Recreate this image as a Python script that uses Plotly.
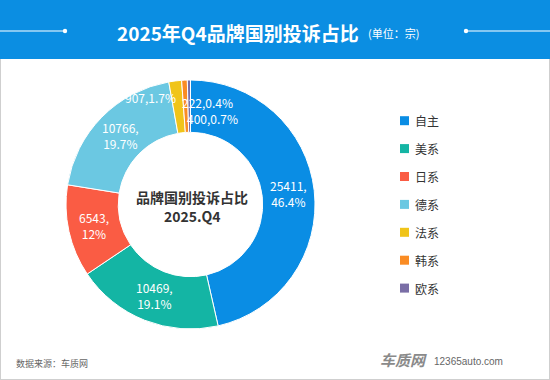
import numpy as np
import plotly.graph_objects as go

# ---------------- data ----------------
categories = ["自主", "美系", "日系", "德系", "法系", "韩系", "欧系"]
values = [25411, 10469, 6543, 10766, 907, 400, 222]
pct_labels = ["46.4%", "19.1%", "12%", "19.7%", "1.7%", "0.7%", "0.4%"]
colors = ["#0A8DE4", "#14B5A4", "#FA5C44", "#6BC8E2", "#F0C419", "#FA8C24", "#7A6EA6"]
title_text = "2025年Q4品牌国别投诉占比"
unit_text = "(单位：宗)"
center_text = ["品牌国别投诉占比", "2025.Q4"]
source_text = "数据来源：车质网"

# ---------------- geometry ----------------
W, H = 550, 380
cx, cy, R = 190.5, 204.5, 124.5
hole = 0.58
FONT = "Noto Sans CJK SC"

def px(x):
    return x / W

def py(y):
    return 1 - y / H

fig = go.Figure()

fig.add_trace(go.Pie(
    labels=categories,
    values=values,
    sort=False,
    direction="clockwise",
    rotation=0,
    hole=hole,
    marker=dict(colors=colors, line=dict(color="white", width=1)),
    textinfo="none",
    hoverinfo="label+value+percent",
    showlegend=False,
    domain=dict(x=[px(cx - R), px(cx + R)], y=[py(cy + R), py(cy - R)]),
))

shapes = []
annotations = []

# border and title band
shapes.append(dict(type="rect", xref="paper", yref="paper", x0=0, x1=1, y0=0, y1=1,
                   line=dict(color="#CFCFCF", width=2), fillcolor="rgba(0,0,0,0)", layer="below"))
shapes.append(dict(type="rect", xref="paper", yref="paper", x0=0, x1=1, y0=py(59), y1=1,
                   line=dict(width=0), fillcolor="#0B8EE2", layer="below"))
# decorative lines
shapes.append(dict(type="line", xref="paper", yref="paper", x0=0, x1=px(65), y0=py(31), y1=py(31),
                   line=dict(color="white", width=1.2)))
shapes.append(dict(type="line", xref="paper", yref="paper", x0=px(466), x1=1, y0=py(31), y1=py(31),
                   line=dict(color="white", width=1.2)))
for dx in (65, 466):
    shapes.append(dict(type="circle", xref="paper", yref="paper",
                       x0=px(dx - 2.2), x1=px(dx + 2.2), y0=py(31 + 2.2), y1=py(31 - 2.2),
                       fillcolor="white", line=dict(width=0)))

annotations.append(dict(text="<b>" + title_text + "</b>", x=px(361), y=py(32), xref="paper", yref="paper",
                        xanchor="right", yanchor="middle", showarrow=False,
                        font=dict(family=FONT, size=19, color="white")))
annotations.append(dict(text=unit_text, x=px(366), y=py(33), xref="paper", yref="paper",
                        xanchor="left", yanchor="middle", showarrow=False,
                        font=dict(family=FONT, size=11, color="white")))

# center text
annotations.append(dict(text="<b>" + center_text[0] + "</b>", x=px(192), y=py(197), xref="paper", yref="paper",
                        xanchor="center", yanchor="middle", showarrow=False,
                        font=dict(family=FONT, size=14, color="#333333")))
annotations.append(dict(text="<b>" + center_text[1] + "</b>", x=px(192), y=py(216), xref="paper", yref="paper",
                        xanchor="center", yanchor="middle", showarrow=False,
                        font=dict(family=FONT, size=14, color="#333333")))

# slice labels (positioned from the data angles)
total = sum(values)
cum = np.cumsum([0] + values)
r_mid = (R * hole + R) / 2
label_shift = {4: (-28, 9), 5: (27, -12), 6: (18, 3.5)}
for i, v in enumerate(values):
    mid = (cum[i] + v / 2) / total * 2 * np.pi
    lx = cx + r_mid * np.sin(mid)
    ly = cy - r_mid * np.cos(mid)
    if i in label_shift:
        txt = f"{v},{pct_labels[i]}"
        xs, ys = label_shift[i]
    else:
        txt = f"{v},<br>{pct_labels[i]}"
        xs, ys = 0, 0
    annotations.append(dict(text=txt, x=px(lx), y=py(ly), xref="paper", yref="paper",
                            xanchor="center", yanchor="middle", showarrow=False,
                            xshift=xs, yshift=ys,
                            font=dict(family=FONT, size=12, color="white")))

# legend (manual)
for i, cat in enumerate(categories):
    yy = 120.7 + i * 27.9
    shapes.append(dict(type="rect", xref="paper", yref="paper",
                       x0=px(400), x1=px(409), y0=py(yy + 4.5), y1=py(yy - 4.5),
                       fillcolor=colors[i], line=dict(width=0)))
    annotations.append(dict(text=cat, x=px(413), y=py(yy), xref="paper", yref="paper",
                            xanchor="left", yanchor="middle", showarrow=False,
                            font=dict(family=FONT, size=12, color="#333333")))

# footer
annotations.append(dict(text=source_text, x=px(14), y=py(363), xref="paper", yref="paper",
                        xanchor="left", yanchor="middle", showarrow=False,
                        font=dict(family=FONT, size=9, color="#666666")))
annotations.append(dict(text="<b><i>车质网</i></b>", x=px(429), y=py(359), xref="paper", yref="paper",
                        xanchor="right", yanchor="middle", showarrow=False,
                        font=dict(family=FONT, size=15, color="#8A8A8A")))
annotations.append(dict(text="12365auto.com", x=px(432), y=py(361), xref="paper", yref="paper",
                        xanchor="left", yanchor="middle", showarrow=False,
                        font=dict(family="Liberation Sans", size=10, color="#666666")))

fig.update_layout(
    width=W, height=H,
    margin=dict(l=0, r=0, t=0, b=0),
    paper_bgcolor="white",
    plot_bgcolor="white",
    shapes=shapes,
    annotations=annotations,
    showlegend=False,
)

fig.write_html(
    "out.html",
    config={"displayModeBar": False},
    post_script="document.body.style.margin='0';document.body.style.overflow='hidden';",
)
